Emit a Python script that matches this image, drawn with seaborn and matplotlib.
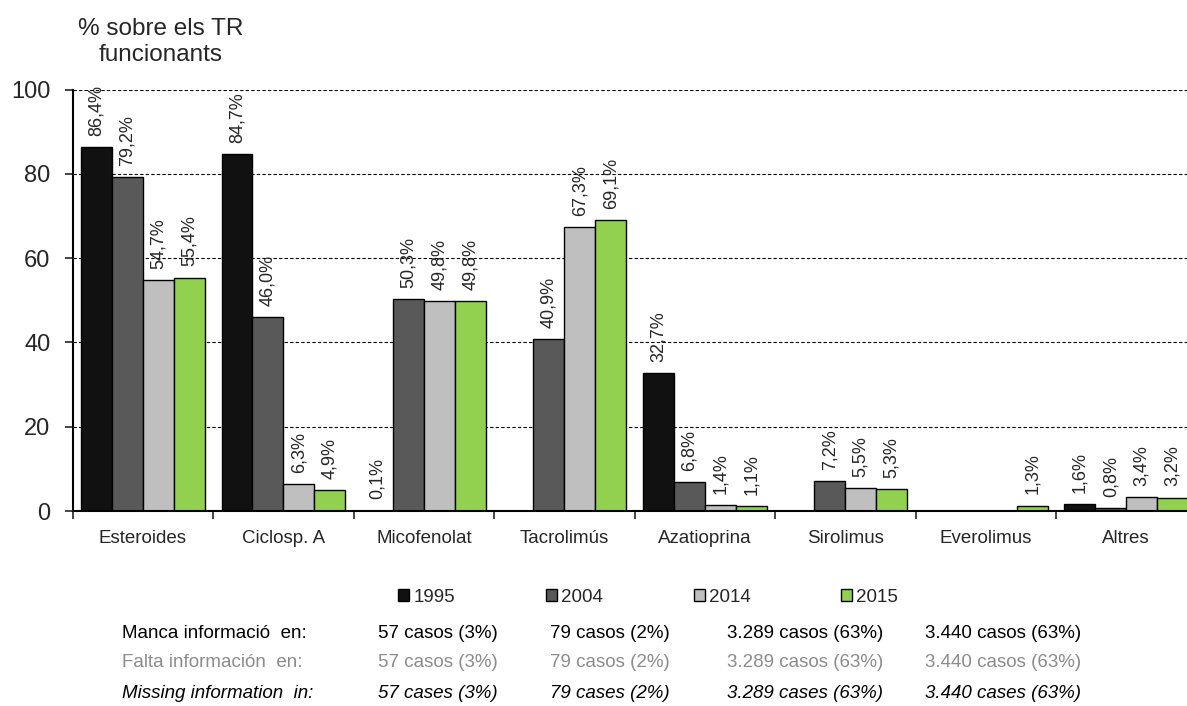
import numpy as np
import pandas as pd
import matplotlib.pyplot as plt
import seaborn as sns
from matplotlib.patches import Patch
from matplotlib.ticker import FixedLocator

# Data (NaN = no bar)
categories = ["Esteroides", "Ciclosp. A", "Micofenolat", "Tacrolimús", "Azatioprina",
              "Sirolimus", "Everolimus", "Altres"]
years = ["1995", "2004", "2014", "2015"]
vals_1995 = [86.4, 84.7, 0.1, np.nan, 32.7, np.nan, np.nan, 1.6]
vals_2004 = [79.2, 46.0, 50.3, 40.9, 6.8, 7.2, np.nan, 0.8]
vals_2014 = [54.7, 6.3, 49.8, 67.3, 1.4, 5.5, np.nan, 3.4]
vals_2015 = [55.4, 4.9, 49.8, 69.1, 1.1, 5.3, 1.3, 3.2]
colors = ["#111111", "#595959", "#bfbfbf", "#92d050"]

row_labels = ["Manca informació  en:", "Falta información  en:", "Missing information  in:"]
missing_cat = ["57 casos (3%)", "79 casos (2%)", "3.289 casos (63%)", "3.440 casos (63%)"]
missing_es = ["57 casos (3%)", "79 casos (2%)", "3.289 casos (63%)", "3.440 casos (63%)"]
missing_en = ["57 cases (3%)", "79 cases (2%)", "3.289 cases (63%)", "3.440 cases (63%)"]

series = [vals_1995, vals_2004, vals_2014, vals_2015]
rows = []
for y, vals in zip(years, series):
    for c, v in zip(categories, vals):
        rows.append({"cat": c, "year": y, "val": v})
df = pd.DataFrame(rows).dropna()

sns.set_style("white")
plt.rcParams["font.family"] = ["Liberation Sans", "DejaVu Sans"]

fig = plt.figure(figsize=(11.87, 7.06), dpi=100)
ax = fig.add_axes([0.0612, 0.2762, 0.9468, 0.597])

sns.barplot(data=df, x="cat", y="val", hue="year", order=categories, hue_order=years,
            palette=dict(zip(years, colors)), saturation=1, width=0.88, errorbar=None,
            edgecolor="black", linewidth=1, legend=False, ax=ax)

for cont in ax.containers:
    ax.bar_label(cont, fmt=lambda v: f"{v:.1f}".replace(".", ",") + "%",
                 rotation=90, padding=8, fontsize=13)

ax.set_ylim(0, 100)
ax.set_xlim(-0.5, len(categories) - 0.5)
ax.set_yticks(range(0, 101, 20))
ax.yaxis.grid(True, linestyle=(0, (3, 2)), color="black", linewidth=0.8)
ax.set_axisbelow(True)
ax.set_xlabel("")
ax.set_ylabel("")

ax.xaxis.set_minor_locator(FixedLocator(np.arange(-0.5, len(categories), 1)))
ax.tick_params(axis="x", which="major", length=0, pad=14, labelsize=13.5)
ax.tick_params(axis="x", which="minor", length=6, width=1.2, direction="out", bottom=True)
ax.tick_params(axis="y", length=6, width=1.2, direction="out", left=True, labelsize=17, pad=10)

for s in ["top", "right"]:
    ax.spines[s].set_visible(False)
for s in ["left", "bottom"]:
    ax.spines[s].set_color("black")
    ax.spines[s].set_linewidth(1.5)

fig.text(0.135, 0.94, "% sobre els TR\nfuncionants", ha="center", va="center",
         fontsize=17.5, linespacing=1.25)

handles = [Patch(facecolor=c, edgecolor="black", linewidth=1) for c in colors]
fig.legend(handles, years, loc="center", bbox_to_anchor=(0.546, 0.154), ncol=4,
           frameon=False, fontsize=13.5, handlelength=0.6, handleheight=0.6,
           handletextpad=0.2, columnspacing=4.85)

row_y = [0.102, 0.061, 0.018]
col_x = [0.369, 0.514, 0.678, 0.845]
styles = [dict(color="black"), dict(color="#8c8c8c"), dict(color="black", style="italic")]
for ry, lab, texts, st in zip(row_y, row_labels, [missing_cat, missing_es, missing_en], styles):
    fig.text(0.1028, ry, lab, ha="left", va="center", fontsize=13.5, **st)
    for cx, t in zip(col_x, texts):
        fig.text(cx, ry, t, ha="center", va="center", fontsize=13.5, **st)

fig.savefig("out.png", dpi=100)
